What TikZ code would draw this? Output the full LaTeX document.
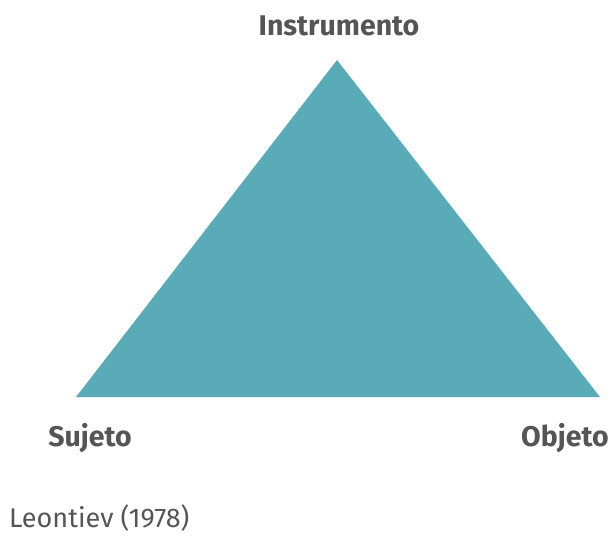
\documentclass[tikz,border=0pt]{standalone}
\usepackage{fontspec}
\setmainfont{Fira Sans}
\definecolor{teal1}{HTML}{5AABB8}
\definecolor{txt}{HTML}{555555}
\begin{document}
\begin{tikzpicture}[x=1pt,y=-1pt,
  lbl/.style={text=txt,font=\fontsize{28.5}{32}\selectfont\bfseries,inner sep=0pt},
  src/.style={text=txt,font=\fontsize{27}{32}\selectfont,inner sep=0pt,anchor=west}]
\useasboundingbox (0,0) rectangle (613,536);
\coordinate (top) at (337,60);
\coordinate (bl) at (76,397);
\coordinate (br) at (600,397);
\fill[teal1] (top) -- (bl) -- (br) -- cycle;
\node[lbl] (instr) at (339,26) {Instrumento};
\node[lbl] (suj) at (90,438) {Sujeto};
\node[lbl] (obj) at (565,438) {Objeto};
\node[src] (leo) at (9,518) {Leontiev (1978)};
\end{tikzpicture}
\end{document}
